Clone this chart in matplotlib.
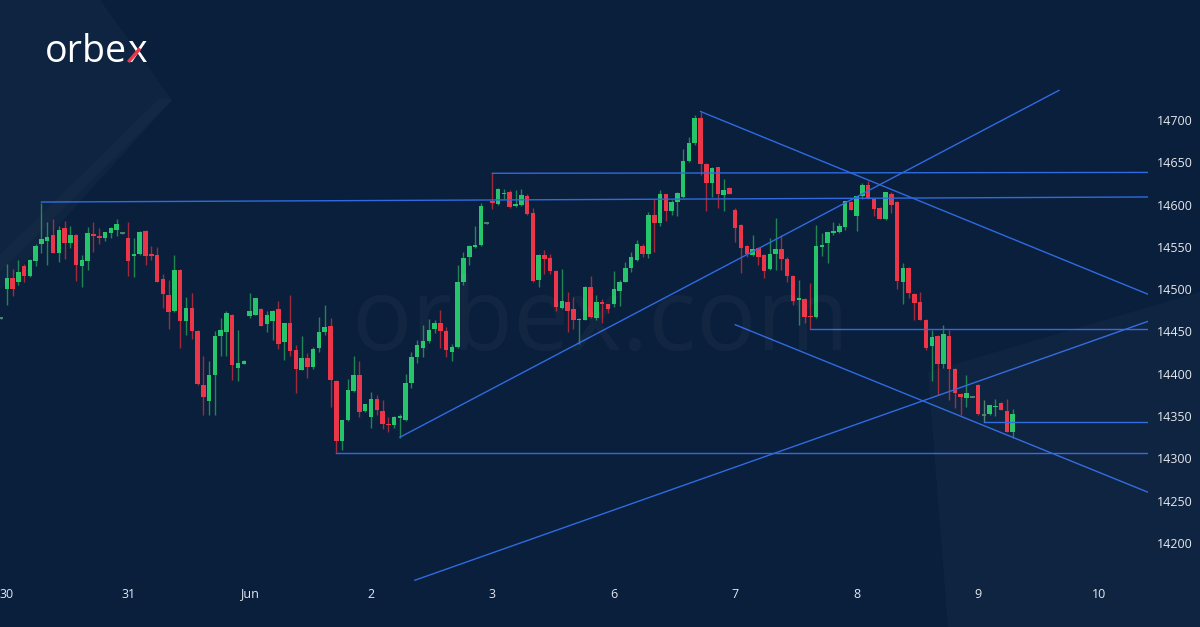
import matplotlib
matplotlib.use("Agg")
import matplotlib.pyplot as plt
import numpy as np
from matplotlib.patches import Polygon
from matplotlib.lines import Line2D

# hourly candles, index -1 .. 174 (about 21 candles per day)
opens = [14466,
    14500, 14513, 14509, 14527, 14516, 14533, 14553, 14557, 14564, 14543,
    14572, 14555, 14564, 14527, 14533, 14565, 14563, 14560, 14566, 14570,
    14566, 14561, 14539, 14541, 14569, 14541, 14540, 14512, 14493, 14474,
    14523, 14462, 14478, 14451, 14387, 14368, 14398, 14445, 14449, 14470,
    14407, 14412, 14468, 14470, 14477, 14459, 14462, 14477, 14437, 14460,
    14428, 14405, 14419, 14408, 14430, 14449, 14457, 14392, 14321, 14345,
    14380, 14398, 14356, 14349, 14370, 14356, 14341, 14340, 14348, 14345,
    14389, 14420, 14430, 14439, 14453, 14460, 14451, 14426, 14432, 14509,
    14538, 14550, 14552, 14578, 14604, 14601, 14613, 14615, 14598, 14600,
    14610, 14590, 14511, 14540, 14537, 14521, 14478, 14485, 14476, 14463,
    14464, 14503, 14466, 14485, 14482, 14483, 14498, 14509, 14525, 14534,
    14551, 14542, 14588, 14578, 14612, 14592, 14603, 14609, 14651, 14673,
    14702, 14648, 14625, 14644, 14611, 14620, 14594, 14576, 14551, 14540,
    14549, 14540, 14524, 14542, 14547, 14536, 14516, 14487, 14488, 14468,
    14467, 14550, 14554, 14566, 14568, 14574, 14603, 14586, 14610, 14623,
    14606, 14596, 14583, 14613, 14603, 14509, 14525, 14494, 14485, 14464,
    14433, 14445, 14412, 14445, 14406, 14376, 14371, 14373, 14387, 14351,
    14352, 14361, 14366, 14356, 14331]
highs = [14467,
    14530, 14524, 14534, 14530, 14536, 14553, 14602, 14579, 14583, 14575,
    14581, 14575, 14565, 14540, 14574, 14579, 14572, 14568, 14573, 14583,
    14567, 14579, 14561, 14569, 14570, 14551, 14550, 14518, 14511, 14540,
    14524, 14491, 14495, 14452, 14421, 14415, 14450, 14466, 14474, 14471,
    14452, 14416, 14495, 14489, 14478, 14474, 14475, 14486, 14460, 14493,
    14434, 14445, 14424, 14432, 14467, 14481, 14466, 14393, 14345, 14394,
    14421, 14415, 14364, 14378, 14375, 14369, 14349, 14350, 14353, 14400,
    14426, 14440, 14458, 14465, 14464, 14475, 14455, 14435, 14529, 14544,
    14552, 14575, 14602, 14579, 14637, 14620, 14618, 14617, 14617, 14619,
    14613, 14596, 14541, 14546, 14542, 14523, 14524, 14497, 14491, 14466,
    14504, 14516, 14493, 14488, 14483, 14521, 14511, 14532, 14544, 14558,
    14553, 14591, 14607, 14617, 14613, 14605, 14615, 14666, 14680, 14706,
    14710, 14649, 14645, 14645, 14630, 14621, 14596, 14577, 14552, 14564,
    14550, 14541, 14560, 14584, 14564, 14538, 14517, 14511, 14490, 14507,
    14576, 14566, 14568, 14579, 14578, 14604, 14604, 14610, 14625, 14628,
    14607, 14597, 14615, 14615, 14604, 14531, 14526, 14495, 14497, 14465,
    14452, 14446, 14458, 14452, 14407, 14377, 14398, 14374, 14388, 14369,
    14363, 14370, 14367, 14370, 14358]
lows = [14465,
    14481, 14492, 14505, 14508, 14514, 14527, 14543, 14529, 14543, 14532,
    14536, 14549, 14510, 14503, 14523, 14544, 14553, 14557, 14561, 14563,
    14565, 14515, 14514, 14540, 14528, 14534, 14508, 14478, 14453, 14473,
    14431, 14446, 14441, 14387, 14351, 14351, 14351, 14421, 14421, 14393,
    14391, 14411, 14466, 14469, 14456, 14449, 14440, 14429, 14416, 14421,
    14377, 14404, 14395, 14406, 14426, 14446, 14361, 14306, 14310, 14344,
    14379, 14349, 14355, 14336, 14351, 14335, 14331, 14336, 14324, 14344,
    14383, 14413, 14420, 14436, 14448, 14430, 14420, 14415, 14431, 14505,
    14529, 14549, 14551, 14577, 14595, 14600, 14607, 14596, 14597, 14598,
    14588, 14509, 14503, 14518, 14518, 14474, 14477, 14449, 14453, 14435,
    14463, 14466, 14464, 14460, 14472, 14479, 14480, 14508, 14520, 14533,
    14538, 14537, 14544, 14575, 14580, 14588, 14587, 14608, 14650, 14671,
    14635, 14592, 14609, 14596, 14592, 14612, 14556, 14519, 14538, 14539,
    14528, 14513, 14523, 14523, 14523, 14509, 14481, 14458, 14460, 14453,
    14466, 14539, 14531, 14564, 14566, 14570, 14594, 14569, 14606, 14606,
    14586, 14583, 14582, 14590, 14500, 14483, 14489, 14464, 14463, 14428,
    14392, 14375, 14407, 14369, 14359, 14351, 14361, 14372, 14351, 14343,
    14351, 14350, 14357, 14331, 14324]
closes = [14466,
    14513, 14500, 14520, 14516, 14535, 14551, 14559, 14562, 14543, 14570,
    14555, 14564, 14528, 14534, 14566, 14563, 14561, 14568, 14572, 14577,
    14566, 14533, 14541, 14568, 14539, 14539, 14509, 14494, 14473, 14523,
    14462, 14478, 14451, 14388, 14373, 14398, 14445, 14452, 14472, 14410,
    14413, 14415, 14474, 14489, 14456, 14470, 14474, 14435, 14460, 14427,
    14406, 14419, 14408, 14429, 14449, 14455, 14393, 14320, 14345, 14381,
    14398, 14355, 14364, 14370, 14357, 14341, 14339, 14349, 14350, 14389,
    14420, 14434, 14439, 14452, 14460, 14450, 14428, 14432, 14509, 14537,
    14551, 14552, 14598, 14578, 14602, 14619, 14614, 14597, 14601, 14611,
    14589, 14510, 14540, 14536, 14521, 14479, 14486, 14474, 14463, 14465,
    14503, 14467, 14485, 14482, 14476, 14500, 14509, 14525, 14538, 14553,
    14542, 14588, 14578, 14612, 14592, 14603, 14614, 14651, 14673, 14702,
    14648, 14625, 14643, 14613, 14617, 14613, 14572, 14549, 14542, 14548,
    14538, 14522, 14542, 14548, 14536, 14516, 14486, 14490, 14467, 14467,
    14551, 14552, 14567, 14569, 14575, 14604, 14594, 14610, 14623, 14606,
    14595, 14583, 14615, 14600, 14510, 14525, 14495, 14484, 14463, 14431,
    14443, 14411, 14447, 14406, 14377, 14372, 14377, 14373, 14352, 14351,
    14363, 14362, 14357, 14331, 14353]

day_labels = ["30", "31", "Jun", "2", "3", "6", "7", "8", "9", "10"]
day_pos = [0, 21, 42, 63, 84, 105, 126, 147, 168, 189]
price_ticks = [14200, 14250, 14300, 14350, 14400, 14450, 14500, 14550, 14600, 14650, 14700]

# horizontal levels: (start index, start price, end price) running to the right edge
levels = [(6, 14603, 14609), (84, 14637, 14638), (57, 14306, 14306),
          (139, 14453, 14453), (169, 14343, 14343)]
# trend lines: (index, price) -> (index, price)
trends = [((120, 14710), (197.4, 14494)),
          ((68, 14325), (182, 14735)),
          ((70.6, 14156), (197.4, 14462)),
          ((126, 14458), (197.4, 14260))]

BG = "#0a1f3c"
GREEN = "#26c46b"
RED = "#eb3549"
GREEN_W = "#1f8552"
RED_W = "#a3293b"
LINE = "#2f6ae0"
TXT = "#e4e8ee"

W, H = 1200, 627
fig = plt.figure(figsize=(12, 6.27), dpi=100, facecolor=BG)

def px(pts):
    return [(x / W, 1 - y / H) for x, y in pts]

# faint background shapes
fig.patches.append(Polygon(px([(0, 0), (100, 0), (172, 100), (0, 290)]), closed=True,
                           transform=fig.transFigure, facecolor="white", alpha=0.022, lw=0))
fig.patches.append(Polygon(px([(0, 255), (160, 98), (172, 100), (0, 272)]), closed=True,
                           transform=fig.transFigure, facecolor="white", alpha=0.02, lw=0))
fig.patches.append(Polygon(px([(928, 372), (1200, 292), (1200, 627), (948, 627)]), closed=True,
                           transform=fig.transFigure, facecolor="white", alpha=0.025, lw=0))

ax = fig.add_axes([0, 45 / H, 1148 / W, 582 / H])
ax.set_facecolor("none")

idx = np.arange(-1, len(opens) - 1)
o = np.array(opens, float)
h = np.array(highs, float)
l = np.array(lows, float)
c = np.array(closes, float)
h = np.maximum(h, np.maximum(o, c))
l = np.minimum(l, np.minimum(o, c))

up = c > o
down = c < o
flat = c == o

ax.vlines(idx[up], l[up], h[up], color=GREEN_W, lw=1.0, zorder=2)
ax.vlines(idx[down], l[down], h[down], color=RED_W, lw=1.0, zorder=2)
ax.vlines(idx[flat], l[flat], h[flat], color="#4f7f6a", lw=1.0, zorder=2)

ax.bar(idx[up], (c - o)[up], bottom=o[up], width=0.78, color=GREEN, lw=0, zorder=3)
ax.bar(idx[down], (o - c)[down], bottom=c[down], width=0.78, color=RED, lw=0, zorder=3)
ax.hlines(o[flat], idx[flat] - 0.39, idx[flat] + 0.39, color="#4f8a6e", lw=1.3, zorder=3)

x_right = 197.4
for start, p0, p1 in levels:
    ax.plot([start, x_right], [p0, p1], color=LINE, lw=1.0, zorder=4)
for (x0, p0), (x1, p1) in trends:
    ax.plot([x0, x1], [p0, p1], color=LINE, lw=1.0, zorder=4)

ax.set_xlim(-1.17, x_right)
ax.set_ylim(14153.9, 14841.8)

ax.set_xticks(day_pos)
ax.set_xticklabels(day_labels)
ax.yaxis.tick_right()
ax.set_yticks(price_ticks)
ax.set_yticklabels([str(p) for p in price_ticks])
ax.tick_params(axis="x", length=0, pad=4, labelsize=9, labelcolor=TXT)
ax.tick_params(axis="y", length=0, pad=6.5, labelsize=9, labelcolor=TXT)
for lab in ax.get_xticklabels() + ax.get_yticklabels():
    lab.set_fontfamily("Open Sans")
for s in ax.spines.values():
    s.set_visible(False)

# watermark
fig.text(600 / W, 1 - 350 / H, "orbex.com", fontsize=72, family="Open Sans",
         color="white", alpha=0.035, ha="center", va="baseline")

# logo: "orbe" + "x" with a red stroke over the lower-left arm of the x
t1 = fig.text(45 / W, 1 - 62 / H, "orbe", fontsize=27, family="Open Sans",
              color="white", ha="left", va="baseline")
fig.canvas.draw()
bb = t1.get_window_extent()
t2 = fig.text(bb.x1 / W, 1 - 62 / H, "x", fontsize=27, family="Open Sans",
              color="white", ha="left", va="baseline")
fig.canvas.draw()
xb = t2.get_window_extent()
# glyph ink roughly spans the x-height above the baseline
ink_l = xb.x0 + 0.06 * xb.width
ink_r = xb.x1 - 0.06 * xb.width
base = H - 62
xh = 0.53 * 27 * 100 / 72
fig.lines.append(Line2D([ink_l / W, (ink_l + 0.68 * (ink_r - ink_l)) / W],
                        [base / H, (base + 0.68 * xh) / H],
                        transform=fig.transFigure, color=RED, lw=2.4,
                        solid_capstyle="butt", zorder=10))

fig.savefig("out.png", dpi=100, facecolor=BG)
